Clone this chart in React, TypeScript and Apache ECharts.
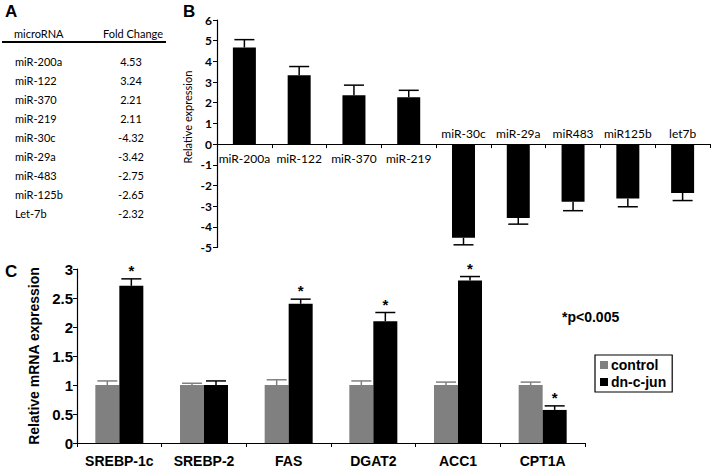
import React, { useEffect, useRef } from "react";
import * as echarts from "echarts";

// Panel A table
const tableNames = ["miR-200a", "miR-122", "miR-370", "miR-219", "miR-30c", "miR-29a", "miR-483", "miR-125b", "Let-7b"];
const tableFold = ["4.53", "3.24", "2.21", "2.11", "-4.32", "-3.42", "-2.75", "-2.65", "-2.32"];

// Panel B
const catsB = ["miR-200a", "miR-122", "miR-370", "miR-219", "miR-30c", "miR-29a", "miR483", "miR125b", "let7b"];
const valsB = [4.67, 3.33, 2.36, 2.27, -4.53, -3.57, -2.79, -2.63, -2.36];
const errB = [0.38, 0.42, 0.49, 0.33, 0.34, 0.3, 0.43, 0.4, 0.37];
const ticksB = { min: -5, max: 6, interval: 1 };

// Panel C
const catsC = ["SREBP-1c", "SREBP-2", "FAS", "DGAT2", "ACC1", "CPT1A"];
const ctrlC = [1.0, 1.0, 1.0, 1.0, 1.0, 1.0];
const ctrlErrC = [0.07, 0.03, 0.09, 0.07, 0.05, 0.05];
const dnC = [2.71, 1.0, 2.4, 2.1, 2.8, 0.57];
const dnErrC = [0.12, 0.07, 0.08, 0.15, 0.07, 0.07];
const sigC = [true, false, true, true, true, true];
const ticksC = { min: 0, max: 3, interval: 0.5 };

const FONT_AB = "Lato, 'Open Sans', sans-serif";
const FONT_C = "'Liberation Sans Narrow', 'Liberation Sans', Arial, sans-serif";
const FONT_C2 = "'Liberation Sans', Arial, sans-serif";

const GRID_B = { left: 217, top: 20, width: 493, height: 227.5 };
// move the B category axis up onto the zero line
const zeroOffsetB = -GRID_B.height * (0 - ticksB.min) / (ticksB.max - ticksB.min);

export default function App() {
  const ref = useRef<HTMLDivElement>(null);
  useEffect(() => {
    if (!ref.current) return;
    const chart = echarts.init(ref.current, undefined, { renderer: "svg" });

    const g: any[] = [];
    g.push({ type: "text", left: 5, top: 3, style: { text: "A", font: "bold 17px 'Liberation Sans', Arial, sans-serif", fill: "#000" } });
    g.push({ type: "text", x: 14, y: 33, style: { text: "microRNA", font: `11px ${FONT_AB}`, fill: "#000", textVerticalAlign: "middle" } });
    g.push({ type: "text", x: 133, y: 33, style: { text: "Fold Change", font: `11px ${FONT_AB}`, fill: "#000", textAlign: "center", textVerticalAlign: "middle" } });
    g.push({ type: "line", shape: { x1: 2, y1: 42, x2: 166, y2: 42 }, style: { stroke: "#000", lineWidth: 2 } });
    tableNames.forEach((n, i) => {
      const y = 61 + i * 19;
      g.push({ type: "text", x: 15, y, style: { text: n, font: `11px ${FONT_AB}`, fill: "#000", textVerticalAlign: "middle" } });
      g.push({ type: "text", x: 131, y, style: { text: tableFold[i], font: `11px ${FONT_AB}`, fill: "#000", textAlign: "center", textVerticalAlign: "middle" } });
    });
    g.push({ type: "text", left: 183, top: 3, style: { text: "B", font: "bold 17px 'Liberation Sans', Arial, sans-serif", fill: "#000" } });
    g.push({ type: "text", left: 5, top: 263, style: { text: "C", font: "bold 17px 'Liberation Sans', Arial, sans-serif", fill: "#000" } });
    g.push({ type: "text", x: 187, y: 117, rotation: Math.PI / 2, style: { text: "Relative expression", font: `11px ${FONT_AB}`, fill: "#000", textAlign: "center", textVerticalAlign: "middle" } });
    g.push({ type: "text", x: 562, y: 317, style: { text: "*p<0.005", font: `bold 14px ${FONT_C2}`, fill: "#000", textVerticalAlign: "middle" } });

    const errRender = (half: number, color: string, withStar: boolean) => (params: any, api: any) => {
      const i = api.value(0);
      const v = api.value(1);
      const e = api.value(2);
      const off = api.value(3);
      const s = api.value(4);
      const base = api.coord([i, v]);
      const end = api.coord([i, v >= 0 ? v + e : v - e]);
      const x = base[0] + off;
      const children: any[] = [
        { type: "line", shape: { x1: x, y1: base[1], x2: x, y2: end[1] }, style: { stroke: color, lineWidth: 1.5 } },
        { type: "line", shape: { x1: x - half, y1: end[1], x2: x + half, y2: end[1] }, style: { stroke: color, lineWidth: 1.5 } },
      ];
      if (withStar && s) {
        children.push({ type: "text", x, y: end[1] - 1, style: { text: "*", font: `bold 15px ${FONT_C2}`, fill: "#000", textAlign: "center", textVerticalAlign: "bottom" } });
      }
      return { type: "group", children };
    };

    const option: any = {
      animation: false,
      graphic: g,
      grid: [
        { ...GRID_B, containLabel: false },
        { left: 77, top: 269, width: 508, height: 175, containLabel: false },
      ],
      xAxis: [
        {
          type: "category", gridIndex: 0, data: catsB, position: "bottom", offset: zeroOffsetB,
          axisLine: { onZero: false, lineStyle: { color: "#000", width: 1.2 } },
          axisTick: { show: true, length: 4, lineStyle: { color: "#000" } },
          axisLabel: { margin: 8, interval: 0, color: "#000", fontFamily: FONT_AB, fontSize: 12, formatter: (v: string, i: number) => (valsB[i] >= 0 ? v : "") },
        },
        {
          type: "category", gridIndex: 0, data: catsB, position: "bottom", offset: zeroOffsetB,
          axisLine: { onZero: false, show: false },
          axisTick: { show: false },
          axisLabel: { inside: true, margin: 5, interval: 0, color: "#000", fontFamily: FONT_AB, fontSize: 12, formatter: (v: string, i: number) => (valsB[i] < 0 ? v : "") },
        },
        {
          type: "category", gridIndex: 1, data: catsC,
          axisLine: { lineStyle: { color: "#000", width: 1.2 } },
          axisTick: { show: true, length: 4, lineStyle: { color: "#000" } },
          axisLabel: { margin: 11, interval: 0, color: "#000", fontFamily: FONT_C, fontWeight: "bold", fontSize: 14 },
        },
      ],
      yAxis: [
        {
          type: "value", gridIndex: 0, min: ticksB.min, max: ticksB.max, interval: ticksB.interval,
          axisLine: { show: true, onZero: false, lineStyle: { color: "#000", width: 1.2 } },
          axisTick: { show: true, length: 4, lineStyle: { color: "#000" } },
          splitLine: { show: false },
          axisLabel: { margin: 5, color: "#000", fontFamily: FONT_AB, fontSize: 12, fontWeight: "bold" },
        },
        {
          type: "value", gridIndex: 1, min: ticksC.min, max: ticksC.max, interval: ticksC.interval,
          name: "Relative mRNA expression", nameLocation: "middle", nameGap: 30,
          nameTextStyle: { fontFamily: FONT_C2, fontWeight: "bold", fontSize: 14, color: "#000" },
          axisLine: { show: true, lineStyle: { color: "#000", width: 1.2 } },
          axisTick: { show: true, length: 4, lineStyle: { color: "#000" } },
          splitLine: { show: false },
          axisLabel: { margin: 4, color: "#000", fontFamily: FONT_C, fontWeight: "bold", fontSize: 15 },
        },
      ],
      legend: {
        data: ["control", "dn-c-jun"],
        orient: "vertical", left: 595, top: 355,
        icon: "rect", itemWidth: 8, itemHeight: 8, itemGap: 3,
        borderColor: "#000", borderWidth: 1.2, padding: [3, 6, 3, 5],
        textStyle: { fontFamily: FONT_C2, fontWeight: "bold", fontSize: 14, color: "#000", padding: [0, 0, 0, -2] },
      },
      series: [
        {
          type: "bar", xAxisIndex: 0, yAxisIndex: 0, data: valsB, barWidth: 23,
          itemStyle: { color: "#000" },
        },
        {
          type: "custom", xAxisIndex: 0, yAxisIndex: 0,
          data: valsB.map((v, i) => [i, v, errB[i], 0, 0]),
          renderItem: errRender(10, "#000", false), z: 3,
        },
        {
          name: "control", type: "bar", xAxisIndex: 2, yAxisIndex: 1, data: ctrlC, barWidth: 24, barGap: "0%",
          itemStyle: { color: "#808080" },
        },
        {
          name: "dn-c-jun", type: "bar", xAxisIndex: 2, yAxisIndex: 1, data: dnC, barWidth: 24, barGap: "0%",
          itemStyle: { color: "#000" },
        },
        {
          type: "custom", xAxisIndex: 2, yAxisIndex: 1,
          data: ctrlC.map((v, i) => [i, v, ctrlErrC[i], -12, 0]),
          renderItem: errRender(10, "#808080", false), z: 3,
        },
        {
          type: "custom", xAxisIndex: 2, yAxisIndex: 1,
          data: dnC.map((v, i) => [i, v, dnErrC[i], 12, sigC[i] ? 1 : 0]),
          renderItem: errRender(10, "#000", true), z: 3,
        },
      ],
    };
    chart.setOption(option);
    return () => chart.dispose();
  }, []);
  return <div ref={ref} style={{ position: "absolute", left: 0, top: 0, width: 719, height: 468 }} />;
}
